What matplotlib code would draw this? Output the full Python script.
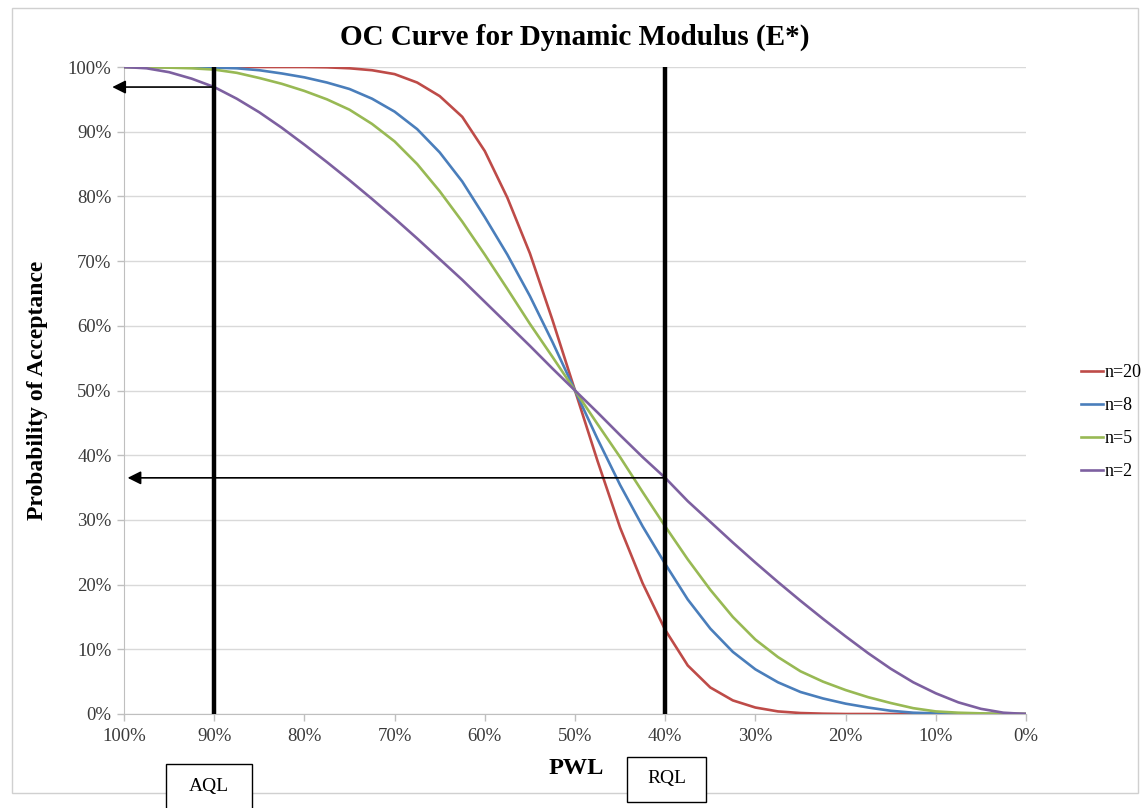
import numpy as np
import matplotlib
matplotlib.use("Agg")
import matplotlib.pyplot as plt
from matplotlib.patches import Rectangle

plt.rcParams['font.family'] = ['Liberation Serif', 'DejaVu Serif']

# PWL values on the x axis (percent within limits)
pwl = [100, 97.5, 95, 92.5, 90, 87.5, 85, 82.5, 80, 77.5, 75, 72.5, 70, 67.5, 65,
       62.5, 60, 57.5, 55, 52.5, 50, 47.5, 45, 42.5, 40, 37.5, 35, 32.5, 30, 27.5,
       25, 22.5, 20, 17.5, 15, 12.5, 10, 7.5, 5, 2.5, 0]

# probability of acceptance (%) for each sample size
pa_n20 = [100, 100, 100, 100, 100, 100, 100, 100, 100, 99.95, 99.8, 99.5, 98.9, 97.6, 95.5,
          92.3, 87.0, 79.8, 71.2, 60.9, 50, 39.1, 28.8, 20.2, 13.0, 7.5, 4.1, 2.1, 1.0, 0.4,
          0.15, 0.05, 0, 0, 0, 0, 0, 0, 0, 0, 0]
pa_n8 = [100, 100, 100, 100, 99.9, 99.8, 99.5, 99.0, 98.4, 97.6, 96.6, 95.1, 93.1, 90.4, 86.8,
         82.3, 76.8, 71.0, 64.6, 57.5, 50, 42.5, 35.4, 29.0, 23.2, 17.7, 13.2, 9.6, 6.9, 4.9,
         3.4, 2.4, 1.6, 1.0, 0.5, 0.2, 0.1, 0, 0, 0, 0]
pa_n5 = [100, 100, 99.9, 99.8, 99.6, 99.1, 98.3, 97.4, 96.3, 95.0, 93.4, 91.2, 88.5, 85.0, 80.8,
         76.1, 71.0, 65.7, 60.3, 55.2, 50, 44.8, 39.7, 34.3, 29.0, 23.9, 19.2, 15.0, 11.5, 8.8,
         6.6, 5.0, 3.7, 2.6, 1.7, 0.9, 0.4, 0.2, 0.1, 0, 0]
pa_n2 = [100, 99.8, 99.2, 98.2, 96.9, 95.1, 93.0, 90.6, 88.0, 85.3, 82.5, 79.6, 76.6, 73.5, 70.3,
         67.1, 63.7, 60.3, 56.9, 53.4, 50, 46.6, 43.1, 39.7, 36.5, 32.9, 29.7, 26.5, 23.4, 20.4,
         17.5, 14.7, 12.0, 9.4, 7.0, 4.9, 3.2, 1.8, 0.8, 0.2, 0]

labels = ['n=20', 'n=8', 'n=5', 'n=2']
colors = ['#BE4B48', '#4A7EBB', '#98B954', '#7D60A0']

aql = 90
rql = 40

W, H = 1142, 808
fig = plt.figure(figsize=(W / 100, H / 100), dpi=100)

# outer chart border
fig.patches.append(Rectangle((12 / W, (H - 793) / H), 1126 / W, 785 / H,
                             transform=fig.transFigure, fill=False,
                             edgecolor='#D0D0D0', linewidth=1))

ax = fig.add_axes([124 / W, (H - 714) / H, 902 / W, 647 / H])

for vals, lab, c in zip([pa_n20, pa_n8, pa_n5, pa_n2], labels, colors):
    ax.plot(pwl, vals, color=c, lw=1.9, label=lab, zorder=3, solid_joinstyle='round')

ax.set_xlim(100, 0)
ax.set_ylim(0, 100)
ax.set_xticks(np.arange(100, -1, -10))
ax.set_yticks(np.arange(0, 101, 10))
ax.set_xticklabels([f'{int(v)}%' for v in np.arange(100, -1, -10)])
ax.set_yticklabels([f'{int(v)}%' for v in np.arange(0, 101, 10)])
ax.tick_params(labelsize=13.5, colors='#3A3A3A', length=5, width=1, color='#BFBFBF')
ax.tick_params(axis='x', pad=5)
ax.tick_params(axis='y', pad=4)
ax.yaxis.grid(True, color='#D9D9D9', lw=1)
ax.set_axisbelow(True)
for side in ['top', 'right']:
    ax.spines[side].set_visible(False)
for side in ['left', 'bottom']:
    ax.spines[side].set_color('#BFBFBF')

# AQL / RQL lines
n2 = dict(zip(pwl, pa_n2))
for x in [aql, rql]:
    ax.plot([x, x], [0, 100], color='black', lw=3.2, zorder=4)

# arrows from the n=2 curve back to the y axis
ax.annotate('', xy=(101.3, n2[aql]), xytext=(aql, n2[aql]), annotation_clip=False,
            arrowprops=dict(arrowstyle='-|>', color='black', lw=1.2,
                            mutation_scale=20, shrinkA=0, shrinkB=0))
ax.annotate('', xy=(99.6, n2[rql]), xytext=(rql, n2[rql]), annotation_clip=False,
            arrowprops=dict(arrowstyle='-|>', color='black', lw=1.2,
                            mutation_scale=20, shrinkA=0, shrinkB=0))

fig.text(575 / W, 1 - 37 / H, 'OC Curve for Dynamic Modulus (E*)', ha='center', va='center',
         fontsize=21, fontweight='bold')
fig.text(38 / W, 1 - 390 / H, 'Probability of Acceptance', ha='center', va='center',
         rotation=90, fontsize=17, fontweight='bold')
fig.text(576 / W, 1 - 768 / H, 'PWL', ha='center', va='center', fontsize=17.5, fontweight='bold')

# AQL and RQL boxes
for x0, y0, w, h, t in [(166, 764, 86, 50, 'AQL'), (627, 757, 79, 45, 'RQL')]:
    fig.patches.append(Rectangle((x0 / W, 1 - (y0 + h) / H), w / W, h / H,
                                 transform=fig.transFigure, facecolor='white',
                                 edgecolor='black', linewidth=1, zorder=5))
    fig.text((x0 + w / 2) / W, 1 - (y0 + min(h, 44) / 2) / H, t, ha='center', va='center',
             fontsize=14, zorder=6)

fig.legend(loc='center left', bbox_to_anchor=(1081 / W, 1 - 422 / H), frameon=False,
           fontsize=13, handlelength=1.2, handletextpad=0.1, labelspacing=0.88,
           borderaxespad=0, borderpad=0)

fig.savefig('out.png', dpi=100)
